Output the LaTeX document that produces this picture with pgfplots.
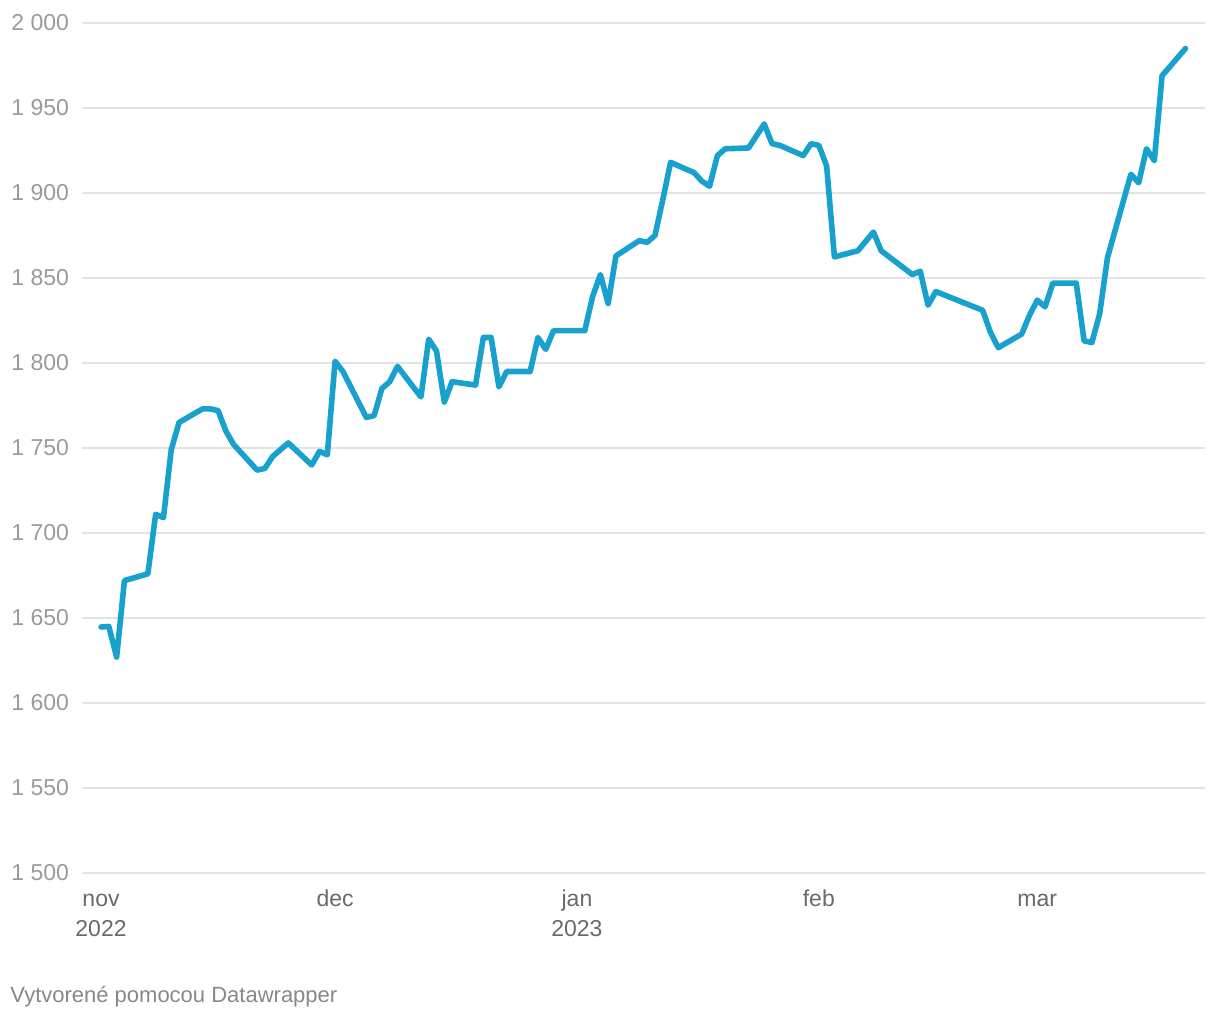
\documentclass[border=0pt]{standalone}
\usepackage{pgfplots}
\pgfplotsset{compat=1.18}
\usepackage{fontspec}
\setmainfont{Liberation Sans}
\definecolor{linec}{HTML}{18A1CD}
\definecolor{gridc}{HTML}{E3E3E3}
\definecolor{ylab}{HTML}{9A9A9A}
\definecolor{xlab}{HTML}{6A6A6A}
\definecolor{foot}{HTML}{888888}
\begin{document}
\begin{tikzpicture}
\path[use as bounding box] (0,0) rectangle (610pt,510pt);
\begin{axis}[
  at={(41pt,73.5pt)}, anchor=south west,
  scale only axis, width=561.5pt, height=425pt,
  xmin=-2.44, xmax=141.5, ymin=1500, ymax=2000,
  axis line style={draw=none},
  major tick length=0pt,
  ytick={1500,1550,...,2000},
  xtick={0,30,61,92,120},
  xticklabels={{\strut nov\\\strut 2022},{\strut dec},{\strut jan\\\strut 2023},{\strut feb},{\strut mar}},
  xticklabel style={align=center, anchor=north, font=\fontsize{11.5}{15}\selectfont, text=xlab, yshift=-2.6pt},
  yticklabel style={font=\fontsize{11.5}{13}\selectfont, text=ylab, xshift=-3pt},
  /pgf/number format/assume math mode=true,
  /pgf/number format/1000 sep={\ },
  ymajorgrids, grid style={gridc, line width=0.75pt},
  clip=false,
]
\addplot[linec, line width=2.8pt, line join=round, line cap=round] coordinates {
(0,1644.7) (1,1645) (2,1627) (3,1672) (6,1676) (7,1711) (8,1709) (9,1749) (10,1765)
(13,1773) (14,1773) (15,1772) (16,1760) (17,1752) (20,1737) (21,1738) (22,1745) (24,1753)
(27,1740) (28,1748) (29,1746) (30,1801) (31,1795) (34,1768) (35,1769) (36,1785) (37,1789)
(38,1798) (41,1780) (42,1814) (43,1807) (44,1777) (45,1789) (48,1787) (49,1815) (50,1815)
(51,1786) (52,1795) (55,1795) (56,1815) (57,1808) (58,1819) (62,1819) (63,1839) (64,1852)
(65,1835) (66,1863) (69,1872) (70,1871) (71,1875) (72,1896) (73,1918) (76,1912) (77,1907)
(78,1904) (79,1922) (80,1926) (83,1926.5) (85,1940.6) (86,1929) (87,1928) (90,1922)
(91,1929) (92,1928) (93,1916) (94,1862.4) (97,1866) (99,1877) (100,1866) (104,1852)
(105,1854) (106,1834) (107,1842) (113,1831) (114,1818) (115,1809) (118,1817) (119,1828)
(120,1837) (121,1833) (122,1847) (125,1847) (126,1813) (127,1812) (128,1829) (129,1862)
(132,1911) (133,1906) (134,1926) (135,1919) (136,1969) (139,1985)
};
\end{axis}
\node[anchor=west, text=foot, font=\fontsize{11}{13}\selectfont, inner sep=0pt] at (5pt,11.5pt) {Vytvorené pomocou Datawrapper};
\end{tikzpicture}
\end{document}
